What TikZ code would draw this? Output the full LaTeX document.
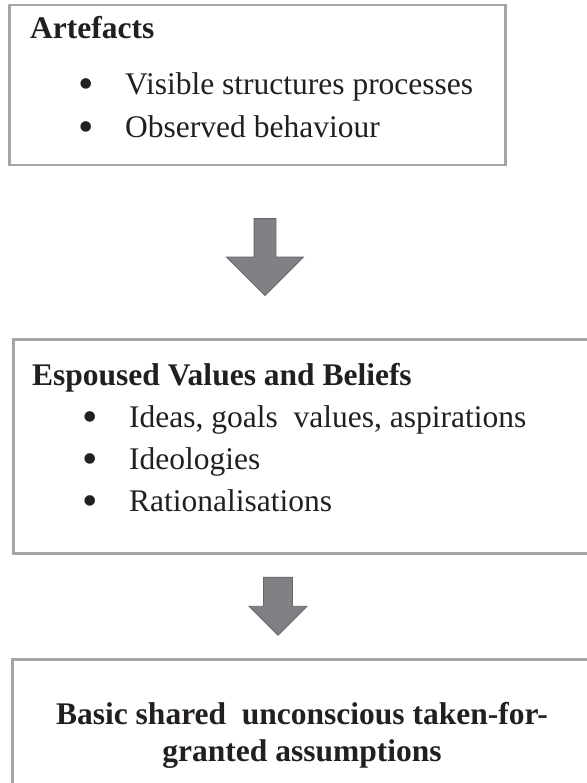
\documentclass[tikz,border=0pt]{standalone}
\usepackage{fontspec}
\setmainfont{Liberation Serif}
\usepackage{tikz}
\usetikzlibrary{shapes.arrows,positioning}
\definecolor{boxgray}{RGB}{165,165,165}
\definecolor{arrowgray}{RGB}{128,129,133}
\definecolor{arrowedge}{RGB}{100,100,106}
\definecolor{inkgray}{RGB}{35,31,32}
\tikzset{
  bigarrow/.style={single arrow, rotate=-90, fill=arrowgray, draw=arrowedge, line width=0.8pt},
  headline/.style={anchor=base west, inner sep=0pt, font=\fontsize{31.5}{38}\selectfont\bfseries},
  itemline/.style={anchor=base west, inner sep=0pt},
  dot/.style={anchor=base, inner sep=0pt, font=\fontsize{44}{44}\selectfont}
}

\begin{document}
\begin{tikzpicture}[x=1pt, y=-1pt, font=\fontsize{31.5}{38}\selectfont, text=inkgray]
   \useasboundingbox (0,0) rectangle (586,783);
   \begin{scope}[every node/.style={draw=boxgray, line width=2.5pt, anchor=north west, inner sep=0pt}]
    \node[minimum width=496pt, minimum height=160pt] (art) at (8,4) {};
    \node[minimum width=581pt, minimum height=214pt] (esp) at (12,338) {};
    \node[minimum width=582pt, minimum height=140pt] (bas) at (11,658) {};
   \end{scope}
   \node[headline] (arttitle) at (30,39) {Artefacts};
   \node[dot] (d1) at (86,99) {\textbullet};
   \node[itemline] (i1) at (125,95) {Visible structures processes};
   \node[dot] (d2) at (86,142) {\textbullet};
   \node[itemline] (i2) at (125,138) {Observed behaviour};
   \node[headline] (esptitle) at (32,385) {Espoused Values and Beliefs};
   \node[dot] (d3) at (90,431) {\textbullet};
   \node[itemline] (i3) at (129,427) {Ideas, goals\ \ values, aspirations};
   \node[dot] (d4) at (90,473) {\textbullet};
   \node[itemline] (i4) at (129,469) {Ideologies};
   \node[dot] (d5) at (90,515) {\textbullet};
   \node[itemline] (i5) at (129,511) {Rationalisations};
   \node[headline, anchor=base] (bas1) at (302,724) {Basic shared\ \ unconscious taken-for-};
   \node[headline, anchor=base] (bas2) at (302,761) {granted assumptions};
   \node[bigarrow, minimum height=77pt, inner sep=10.5pt, single arrow head extend=27.5pt] (arr1) at (265,251.5) {};
   \node[bigarrow, minimum height=58pt, inner sep=14pt, single arrow head extend=14.5pt] (arr2) at (278,599) {};
\end{tikzpicture}
\end{document}
